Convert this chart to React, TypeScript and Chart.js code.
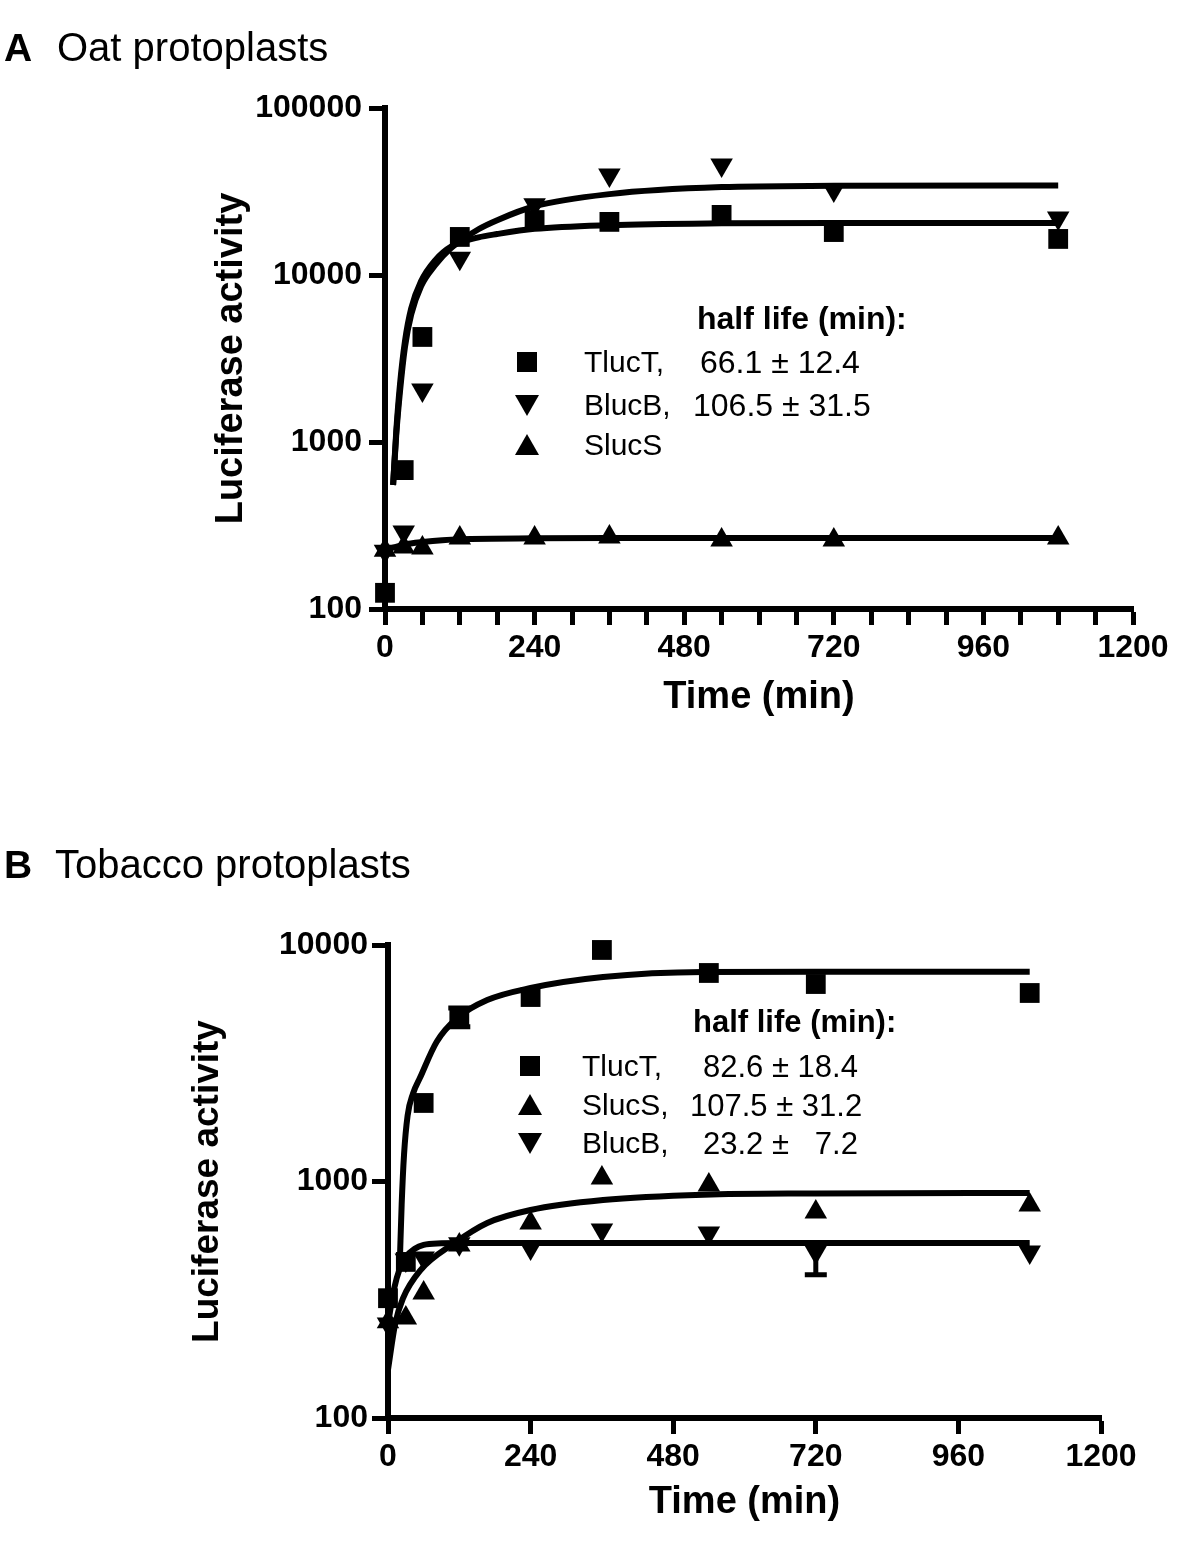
import React, { useEffect, useRef } from 'react';
import { Chart, registerables } from 'chart.js';

Chart.register(...registerables);

const FONT = "Arial, 'Liberation Sans', Helvetica, sans-serif";

// ---------- Panel A: Oat protoplasts ----------
const timesA = [0, 30, 60, 120, 240, 360, 540, 720, 1080];
const aTlucT = [125, 679, 4256, 16900, 21340, 20800, 22900, 18080, 16440];
const aBlucB = [222, 289, 2048, 12600, 26300, 39700, 45600, 32300, 21950];
const aSlucS = [225, 235, 232, 266, 266, 270, 259, 259, 266];

const fitTimesA = [13, 18, 24, 32, 42, 58, 80, 106, 150, 180, 240, 360, 540, 720, 1080];
const aTlucTFit = [553, 1150, 2200, 4000, 6300, 9200, 12200, 14800, 16800, 17600, 18900, 19900, 20400, 20500, 20500];
const aBlucBFit = [553, 1100, 2000, 3700, 5800, 8600, 11400, 14500, 18800, 21300, 25800, 30500, 33600, 34200, 34400];
const fitTimesASlucS = [0, 30, 60, 120, 240, 360, 540, 720, 1080];
const aSlucSFit = [225, 243, 252, 262, 265, 266, 266, 266, 266];

// ---------- Panel B: Tobacco protoplasts ----------
const timesB = [0, 30, 60, 120, 240, 360, 540, 720, 1080];
const bTlucT = [321, 457, 2148, 4966, 6026, 9528, 7615, 6839, 6267];
const bSlucS = [255, 265, 338, 539, 668, 1035, 966, 743, 796];
const bBlucB = [250, 466, 475, 545, 524, 624, 605, 503, 503];
const bTlucTErrLow = [0, 0, 0, 450, 0, 0, 0, 0, 0];
const bTlucTErrHigh = [0, 0, 0, 450, 0, 0, 0, 0, 0];
const bBlucBErrLow = [0, 0, 0, 0, 0, 0, 0, 100, 0];
const bBlucBErrHigh = [0, 0, 0, 0, 0, 0, 0, 0, 0];

const fitTimesBTlucT = [20, 23, 27, 33, 42, 54, 82, 116, 167, 240, 362, 531, 720, 1080];
const bTlucTFit = [466, 800, 1300, 1900, 2350, 2750, 3900, 4900, 5850, 6580, 7324, 7690, 7700, 7700];
const fitTimesBSlucS = [0, 12, 25, 54, 110, 167, 240, 362, 531, 720, 1080];
const bSlucSFit = [160, 250, 320, 420, 545, 668, 758, 835, 880, 890, 895];
const fitTimesBBlucB = [0, 10, 20, 30, 45, 60, 90, 120, 240, 1080];
const bBlucBFit = [250, 350, 430, 480, 520, 540, 548, 550, 550, 550];

// ---------- axes ----------
const xMinorTicksA = [0, 60, 120, 180, 240, 300, 360, 420, 480, 540, 600, 660, 720, 780, 840, 900, 960, 1020, 1080, 1140, 1200];
const xTicksB = [0, 240, 480, 720, 960, 1200];
const xLabelTicks = [0, 240, 480, 720, 960, 1200];
const yTicksA = [100, 1000, 10000, 100000];
const yTicksB = [100, 1000, 10000];

const xy = (xs: number[], ys: number[]) => xs.map((x, i) => ({ x, y: ys[i] }));

const pointDs = (data: { x: number; y: number }[], style: 'rect' | 'up' | 'down') => ({
  data,
  showLine: false,
  pointStyle: style === 'rect' ? 'rect' : 'triangle',
  pointRotation: style === 'down' ? 180 : 0,
  pointRadius: style === 'rect' ? 14 : 13,
  pointBackgroundColor: '#000',
  pointBorderColor: '#000',
  pointBorderWidth: 0,
  clip: false as any,
});

const lineDs = (data: { x: number; y: number }[]) => ({
  data,
  showLine: true,
  pointRadius: 0,
  borderColor: '#000',
  borderWidth: 6,
  cubicInterpolationMode: 'monotone',
  fill: false,
  clip: false as any,
});

const errorBarPlugin = {
  id: 'errBars',
  afterDatasetsDraw(chart: any, _a: any, opts: any) {
    const { ctx } = chart;
    const x = chart.scales.x;
    const y = chart.scales.y;
    (opts.bars || []).forEach((b: any) => {
      const ds = chart.data.datasets[b.dataset];
      ds.data.forEach((pt: any, i: number) => {
        const lo = b.low[i];
        const hi = b.high[i];
        if (!lo && !hi) return;
        const px = x.getPixelForValue(pt.x);
        const py = y.getPixelForValue(pt.y);
        const yl = y.getPixelForValue(pt.y - lo);
        const yh = y.getPixelForValue(pt.y + hi);
        ctx.save();
        ctx.strokeStyle = '#000';
        ctx.lineWidth = 5;
        ctx.beginPath();
        if (lo) {
          ctx.moveTo(px, py);
          ctx.lineTo(px, yl);
          ctx.moveTo(px - 11, yl);
          ctx.lineTo(px + 11, yl);
        }
        if (hi) {
          ctx.moveTo(px, py);
          ctx.lineTo(px, yh);
          ctx.moveTo(px - 11, yh);
          ctx.lineTo(px + 11, yh);
        }
        ctx.stroke();
        ctx.restore();
      });
    });
  },
};

const legendMarksPlugin = {
  id: 'legendMarks',
  afterDraw(chart: any, _a: any, opts: any) {
    const { ctx } = chart;
    (opts.marks || []).forEach((m: any) => {
      ctx.save();
      ctx.fillStyle = '#000';
      ctx.beginPath();
      if (m.style === 'rect') {
        ctx.rect(m.x - 10, m.y - 10, 20, 20);
      } else if (m.style === 'up') {
        ctx.moveTo(m.x, m.y - 11);
        ctx.lineTo(m.x + 12, m.y + 10);
        ctx.lineTo(m.x - 12, m.y + 10);
        ctx.closePath();
      } else {
        ctx.moveTo(m.x, m.y + 11);
        ctx.lineTo(m.x + 12, m.y - 10);
        ctx.lineTo(m.x - 12, m.y - 10);
        ctx.closePath();
      }
      ctx.fill();
      ctx.restore();
    });
  },
};

interface PanelSpec {
  height: number;
  padTop: number;
  padRight: number;
  yAxisW: number;
  xAxisH: number;
  yMax: number;
  yTicks: number[];
  xTicks: number[];
  yTitlePad: number;
  yTitleSize: number;
  xTitlePad: number;
  yTickPad: number;
  datasets: any[];
  errBars: any[];
  marks: any[];
}

function makeConfig(p: PanelSpec): any {
  return {
    type: 'scatter',
    data: { datasets: p.datasets },
    plugins: [errorBarPlugin, legendMarksPlugin],
    options: {
      animation: false,
      responsive: false,
      maintainAspectRatio: false,
      layout: { padding: { top: p.padTop, right: p.padRight, left: 0, bottom: 0 } },
      plugins: {
        legend: { display: false },
        tooltip: { enabled: false },
        errBars: { bars: p.errBars },
        legendMarks: { marks: p.marks },
      },
      scales: {
        x: {
          type: 'linear',
          min: 0,
          max: 1200,
          afterBuildTicks: (s: any) => {
            s.ticks = p.xTicks.map((v) => ({ value: v }));
          },
          ticks: {
            callback: (v: any) => (xLabelTicks.includes(Number(v)) ? String(v) : ''),
            font: { family: FONT, size: 32, weight: 'bold' },
            color: '#000',
            padding: 4,
            maxRotation: 0,
            autoSkip: false,
          },
          grid: {
            display: true,
            drawOnChartArea: false,
            drawTicks: true,
            tickLength: 16,
            tickWidth: 5,
            tickColor: '#000',
          },
          border: { display: true, width: 6, color: '#000' },
          title: {
            display: true,
            text: 'Time (min)',
            font: { family: FONT, size: 38, weight: 'bold' },
            color: '#000',
            padding: { top: 0, bottom: p.xTitlePad },
          },
          afterFit: (s: any) => {
            s.height = p.xAxisH;
          },
        },
        y: {
          type: 'logarithmic',
          min: 100,
          max: p.yMax,
          afterBuildTicks: (s: any) => {
            s.ticks = p.yTicks.map((v) => ({ value: v }));
          },
          ticks: {
            callback: (v: any) => String(v),
            font: { family: FONT, size: 32, weight: 'bold' },
            color: '#000',
            padding: p.yTickPad,
            autoSkip: false,
          },
          grid: {
            display: true,
            drawOnChartArea: false,
            drawTicks: true,
            tickLength: 16,
            tickWidth: 5,
            tickColor: '#000',
          },
          border: { display: true, width: 6, color: '#000' },
          title: {
            display: true,
            text: 'Luciferase activity',
            font: { family: FONT, size: p.yTitleSize, weight: 'bold' },
            color: '#000',
            padding: { top: p.yTitlePad, bottom: 0 },
          },
          afterFit: (s: any) => {
            s.width = p.yAxisW;
          },
        },
      },
    },
  };
}

const specA: PanelSpec = {
  height: 780,
  padTop: 108,
  padRight: 67,
  yAxisW: 385,
  xAxisH: 171,
  yMax: 100000,
  yTicks: yTicksA,
  xTicks: xMinorTicksA,
  yTitlePad: 209,
  yTitleSize: 38,
  xTitlePad: 60,
  yTickPad: 7,
  datasets: [
    lineDs(xy(fitTimesA, aTlucTFit)),
    lineDs(xy(fitTimesA, aBlucBFit)),
    lineDs(xy(fitTimesASlucS, aSlucSFit)),
    pointDs(xy(timesA, aTlucT), 'rect'),
    pointDs(xy(timesA, aBlucB), 'down'),
    pointDs(xy(timesA, aSlucS), 'up'),
  ],
  errBars: [],
  marks: [
    { x: 527, y: 362, style: 'rect' },
    { x: 527, y: 405, style: 'down' },
    { x: 527, y: 445, style: 'up' },
  ],
};

const specB: PanelSpec = {
  height: 764,
  padTop: 165,
  padRight: 99,
  yAxisW: 388,
  xAxisH: 126,
  yMax: 10000,
  yTicks: yTicksB,
  xTicks: xTicksB,
  yTitlePad: 186,
  yTitleSize: 37,
  xTitlePad: 19,
  yTickPad: 4,
  datasets: [
    lineDs(xy(fitTimesBTlucT, bTlucTFit)),
    lineDs(xy(fitTimesBSlucS, bSlucSFit)),
    lineDs(xy(fitTimesBBlucB, bBlucBFit)),
    pointDs(xy(timesB, bTlucT), 'rect'),
    pointDs(xy(timesB, bSlucS), 'up'),
    pointDs(xy(timesB, bBlucB), 'down'),
  ],
  errBars: [
    { dataset: 3, low: bTlucTErrLow, high: bTlucTErrHigh },
    { dataset: 5, low: bBlucBErrLow, high: bBlucBErrHigh },
  ],
  marks: [
    { x: 530, y: 286, style: 'rect' },
    { x: 530, y: 325, style: 'up' },
    { x: 530, y: 363, style: 'down' },
  ],
};

function ChartCanvas({ spec, top }: { spec: PanelSpec; top: number }) {
  const ref = useRef<HTMLCanvasElement>(null);
  useEffect(() => {
    const chart = new Chart(ref.current as HTMLCanvasElement, makeConfig(spec));
    return () => chart.destroy();
  }, []);
  return (
    <canvas
      ref={ref}
      width={1200}
      height={spec.height}
      style={{ position: 'absolute', left: 0, top, width: 1200, height: spec.height }}
    />
  );
}

function T({ x, y, size, bold, children }: { x: number; y: number; size: number; bold?: boolean; children: any }) {
  return (
    <div
      style={{
        position: 'absolute',
        left: x,
        top: y,
        transform: 'translateY(-50%)',
        fontFamily: FONT,
        fontSize: size,
        fontWeight: bold ? 'bold' : 'normal',
        lineHeight: 1,
        whiteSpace: 'pre',
        color: '#000',
      }}
    >
      {children}
    </div>
  );
}

export default function App() {
  return (
    <div style={{ position: 'absolute', left: 0, top: 0, width: 1200, height: 1544, background: '#fff', overflow: 'hidden' }}>
      <ChartCanvas spec={specA} top={0} />
      <ChartCanvas spec={specB} top={780} />

      <T x={4} y={47} size={39} bold>A</T>
      <T x={57} y={47} size={40}>Oat protoplasts</T>
      <T x={4} y={864} size={39} bold>B</T>
      <T x={55} y={864} size={40}>Tobacco protoplasts</T>

      <T x={697} y={318} size={32} bold>half life (min):</T>
      <T x={584} y={362} size={30}>TlucT,</T>
      <T x={700} y={362} size={32}>66.1 ± 12.4</T>
      <T x={584} y={405} size={30}>BlucB,</T>
      <T x={693} y={405} size={32}>106.5 ± 31.5</T>
      <T x={584} y={445} size={30}>SlucS</T>

      <T x={693} y={1021} size={31} bold>half life (min):</T>
      <T x={582} y={1066} size={30}>TlucT,</T>
      <T x={703} y={1066} size={31}>82.6 ± 18.4</T>
      <T x={582} y={1105} size={30}>SlucS,</T>
      <T x={690} y={1105} size={31}>107.5 ± 31.2</T>
      <T x={582} y={1143} size={30}>BlucB,</T>
      <T x={703} y={1143} size={31}>{'23.2 ±   7.2'}</T>
    </div>
  );
}
